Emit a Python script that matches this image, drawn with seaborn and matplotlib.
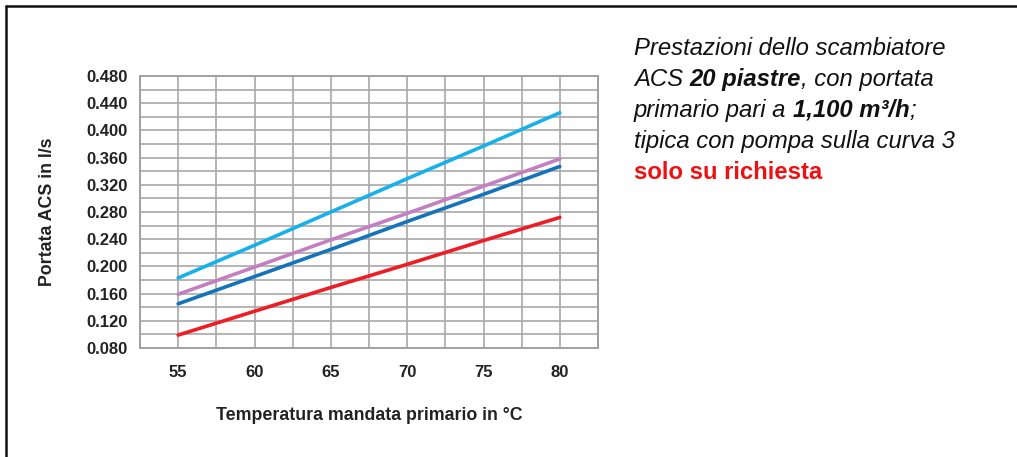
import matplotlib
matplotlib.use("Agg")
import matplotlib.pyplot as plt
from matplotlib.lines import Line2D
from matplotlib.ticker import MultipleLocator
import seaborn as sns
import pandas as pd

# Primary supply temperature (°C)
temperature = [55, 60, 65, 70, 75, 80]

# DHW flow rate (l/s) for each curve
curve_lightblue = [0.183, 0.231, 0.280, 0.329, 0.377, 0.426]
curve_lilac = [0.159, 0.199, 0.239, 0.278, 0.318, 0.358]
curve_blue = [0.145, 0.185, 0.225, 0.266, 0.306, 0.347]
curve_red = [0.099, 0.134, 0.169, 0.203, 0.238, 0.272]

series_names = ["c1", "c2", "c3", "c4"]
series_colors = ["#16B1EA", "#C47FC2", "#1473BB", "#EE1C25"]

y_ticks = [0.080, 0.120, 0.160, 0.200, 0.240, 0.280, 0.320, 0.360, 0.400, 0.440, 0.480]

sns.set_style("white")
plt.rcParams["font.family"] = ["Liberation Sans", "DejaVu Sans"]

rows = []
for name, vals in zip(series_names, [curve_lightblue, curve_lilac, curve_blue, curve_red]):
    for t, v in zip(temperature, vals):
        rows.append({"T": t, "Q": v, "curve": name})
df = pd.DataFrame(rows)

W, H = 1017, 457
fig = plt.figure(figsize=(W / 100, H / 100), dpi=100)
ax = fig.add_axes([140 / W, 1 - 348 / H, 458 / W, 272 / H])

sns.lineplot(data=df, x="T", y="Q", hue="curve", palette=series_colors,
             hue_order=series_names, linewidth=2.6, legend=False, ax=ax,
             zorder=3)

ax.set_xlim(52.5, 82.5)
ax.set_ylim(0.080, 0.480)

# Grid every 2.5 °C and every 0.02 l/s
ax.xaxis.set_minor_locator(MultipleLocator(2.5))
ax.yaxis.set_minor_locator(MultipleLocator(0.02))
ax.grid(which="both", color="#A8A8A8", linewidth=1.2)
ax.set_axisbelow(True)

tick_font = dict(fontsize=12, fontweight="bold", color="#222222")
ax.set_xticks(temperature)
ax.set_xticklabels([str(t) for t in temperature], **tick_font)
ax.set_yticks(y_ticks)
ax.set_yticklabels([f"{v:.3f}" for v in y_ticks], **tick_font)

# Tick marks sit between the labelled temperatures
ax.tick_params(axis="x", which="major", length=0, pad=12)
ax.tick_params(axis="x", which="minor", length=4, color="#A0A0A0", width=1.2)
ax.tick_params(axis="y", which="major", length=3, color="#A0A0A0", width=1.2, pad=6)
ax.tick_params(axis="y", which="minor", length=0)
for tick, loc in zip(ax.xaxis.get_minor_ticks(), ax.xaxis.get_minorticklocs()):
    if abs((loc - 52.5) % 5) > 1e-6:
        tick.tick1line.set_visible(False)

for s in ax.spines.values():
    s.set_color("#A0A0A0")
    s.set_linewidth(1.4)

label_font = dict(fontsize=12.8, fontweight="bold", color="#222222")
ax.set_xlabel("Temperatura mandata primario in °C", labelpad=20, **label_font)
ax.set_ylabel("Portata ACS in l/s", labelpad=22, **label_font)

# Outer frame: top and left edges
fig.add_artist(Line2D([6 / W, 1.0], [1 - 6 / H, 1 - 6 / H],
                      transform=fig.transFigure, color="#111111", linewidth=1.8))
fig.add_artist(Line2D([6 / W, 6 / W], [0.0, 1 - 6 / H],
                      transform=fig.transFigure, color="#111111", linewidth=1.8))

# Description text, built from styled pieces on each line
fs = 17.2
dark = "#111111"
line_pieces = [
    [("Prestazioni dello scambiatore", "italic", "normal", dark)],
    [("ACS ", "italic", "normal", dark), ("20 piastre", "italic", "bold", dark),
     (", con portata", "italic", "normal", dark)],
    [("primario pari a ", "italic", "normal", dark),
     ("1,100 m³/h", "italic", "bold", dark), (";", "italic", "normal", dark)],
    [("tipica con pompa sulla curva 3", "italic", "normal", dark)],
    [("solo su richiesta", "normal", "bold", "#EE1111")],
]
x0 = 634
baselines = [55, 86, 117, 148, 179]
for pieces, yb in zip(line_pieces, baselines):
    prev = None
    for txt, style, weight, col in pieces:
        if prev is None:
            prev = fig.text(x0 / W, 1 - yb / H, txt, fontsize=fs, fontstyle=style,
                            fontweight=weight, color=col, va="baseline", ha="left")
        else:
            prev = fig.add_artist(matplotlib.text.Annotation(
                txt, xy=(1, 0), xycoords=prev, va="bottom", ha="left",
                fontsize=fs, fontstyle=style, fontweight=weight, color=col))

fig.savefig("out.png", dpi=100, facecolor="white")
